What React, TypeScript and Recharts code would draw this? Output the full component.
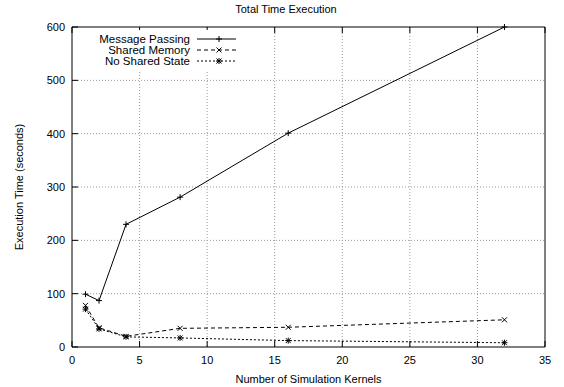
import React from 'react';
import { LineChart, Line, XAxis, YAxis, CartesianGrid, Legend } from 'recharts';

const kernels = [1, 2, 4, 8, 16, 32];
const messagePassing = [99, 87, 230, 281, 401, 600];
const sharedMemory = [78, 36, 20, 35, 37, 51];
const noSharedState = [71, 34, 19, 17, 12, 8];

const xTicks = [0, 5, 10, 15, 20, 25, 30, 35];
const yTicks = [0, 100, 200, 300, 400, 500, 600];

const chartData = kernels.map((k, i) => ({
  kernels: k,
  mp: messagePassing[i],
  sm: sharedMemory[i],
  nss: noSharedState[i],
}));

const FONT = '"Liberation Sans", Arial, sans-serif';
const TICK = 6;

type Shape = 'plus' | 'cross' | 'star';

function Marker({ cx, cy, shape }: { cx: number; cy: number; shape: Shape }) {
  const p = 3;
  const c = 2.5;
  return (
    <g stroke="#000" strokeWidth={1}>
      {shape !== 'cross' && (
        <>
          <line x1={cx - p} y1={cy} x2={cx + p} y2={cy} />
          <line x1={cx} y1={cy - p} x2={cx} y2={cy + p} />
        </>
      )}
      {shape !== 'plus' && (
        <>
          <line x1={cx - c} y1={cy - c} x2={cx + c} y2={cy + c} />
          <line x1={cx - c} y1={cy + c} x2={cx + c} y2={cy - c} />
        </>
      )}
    </g>
  );
}

const dotFor = (shape: Shape) => (props: any) =>
  <Marker key={props.key ?? props.index} cx={props.cx} cy={props.cy} shape={shape} />;

// gnuplot style ticks: short marks pointing into the plot
const BottomTick = ({ x, y, payload }: any) => (
  <g>
    <line x1={x} y1={y} x2={x} y2={y - TICK} stroke="#000" />
    <text x={x} y={y + 13} dy="0.35em" textAnchor="middle" fontSize={11} fontFamily={FONT} fill="#000">
      {payload.value}
    </text>
  </g>
);
const TopTick = ({ x, y }: any) => <line x1={x} y1={y} x2={x} y2={y + TICK} stroke="#000" />;
const LeftTick = ({ x, y, payload }: any) => (
  <g>
    <line x1={x} y1={y} x2={x + TICK} y2={y} stroke="#000" />
    <text x={x - 7} y={y} dy="0.35em" textAnchor="end" fontSize={11} fontFamily={FONT} fill="#000">
      {payload.value}
    </text>
  </g>
);
const RightTick = ({ x, y }: any) => <line x1={x} y1={y} x2={x - TICK} y2={y} stroke="#000" />;

const legendItems: { label: string; dash?: string; shape: Shape }[] = [
  { label: 'Message Passing', shape: 'plus' },
  { label: 'Shared Memory', dash: '4 3', shape: 'cross' },
  { label: 'No Shared State', dash: '2 2', shape: 'star' },
];

function LegendBox() {
  return (
    <svg width={170} height={40} style={{ display: 'block' }}>
      <rect x={0} y={0} width={170} height={40} fill="#fff" />
      {legendItems.map((it, i) => {
        const y = 9 + i * 11;
        return (
          <g key={it.label}>
            <text x={115} y={y} dy="0.35em" textAnchor="end" fontSize={11.5} fontFamily={FONT} fill="#000">
              {it.label}
            </text>
            <line x1={122} y1={y} x2={161} y2={y} stroke="#000" strokeWidth={1} strokeDasharray={it.dash} />
            <Marker cx={144} cy={y} shape={it.shape} />
          </g>
        );
      })}
    </svg>
  );
}

export default function App() {
  return (
    <div style={{ position: 'absolute', left: 0, top: 0, width: 564, height: 387, background: '#fff', fontFamily: FONT }}>
      <div style={{ position: 'absolute', left: 0, top: 3, width: 572, textAlign: 'center', fontSize: 11 }}>
        Total Time Execution
      </div>
      <LineChart width={564} height={387} data={chartData} margin={{ top: 26, right: 18, bottom: 0, left: 0 }}>
        <CartesianGrid
          xAxisId="bottom"
          yAxisId="left"
          stroke="#999"
          strokeDasharray="1 2"
          horizontalValues={yTicks.slice(1, -1)}
          verticalValues={xTicks.slice(1, -1)}
        />
        <XAxis
          xAxisId="bottom"
          dataKey="kernels"
          type="number"
          domain={[0, 35]}
          ticks={xTicks}
          interval={0}
          height={40}
          stroke="#000"
          tickLine={false}
          tickSize={0}
          tickMargin={0}
          tick={<BottomTick />}
          label={{ value: 'Number of Simulation Kernels', position: 'insideBottom', offset: 4, fontSize: 11, fill: '#000', fontFamily: FONT }}
        />
        <XAxis
          xAxisId="top"
          orientation="top"
          dataKey="kernels"
          type="number"
          domain={[0, 35]}
          ticks={xTicks}
          interval={0}
          height={1}
          stroke="#000"
          tickLine={false}
          tickSize={0}
          tickMargin={0}
          tick={<TopTick />}
        />
        <YAxis
          yAxisId="left"
          type="number"
          domain={[0, 600]}
          ticks={yTicks}
          interval={0}
          width={72}
          stroke="#000"
          tickLine={false}
          tickSize={0}
          tickMargin={0}
          tick={<LeftTick />}
          label={{ value: 'Execution Time (seconds)', angle: -90, position: 'insideLeft', offset: 19, fontSize: 11, fill: '#000', fontFamily: FONT, style: { textAnchor: 'middle' } }}
        />
        <YAxis
          yAxisId="right"
          orientation="right"
          type="number"
          domain={[0, 600]}
          ticks={yTicks}
          interval={0}
          width={1}
          stroke="#000"
          tickLine={false}
          tickSize={0}
          tickMargin={0}
          tick={<RightTick />}
        />
        <Legend
          layout="vertical"
          align="center"
          verticalAlign="middle"
          wrapperStyle={{ left: 75, top: 30, width: 170, height: 40 }}
          content={() => <LegendBox />}
        />
        <Line xAxisId="bottom" yAxisId="left" dataKey="mp" name="Message Passing" stroke="#000" strokeWidth={1} dot={dotFor('plus')} activeDot={false} isAnimationActive={false} />
        <Line xAxisId="bottom" yAxisId="left" dataKey="sm" name="Shared Memory" stroke="#000" strokeWidth={1} strokeDasharray="4 3" dot={dotFor('cross')} activeDot={false} isAnimationActive={false} />
        <Line xAxisId="bottom" yAxisId="left" dataKey="nss" name="No Shared State" stroke="#000" strokeWidth={1} strokeDasharray="2 2" dot={dotFor('star')} activeDot={false} isAnimationActive={false} />
      </LineChart>
    </div>
  );
}
